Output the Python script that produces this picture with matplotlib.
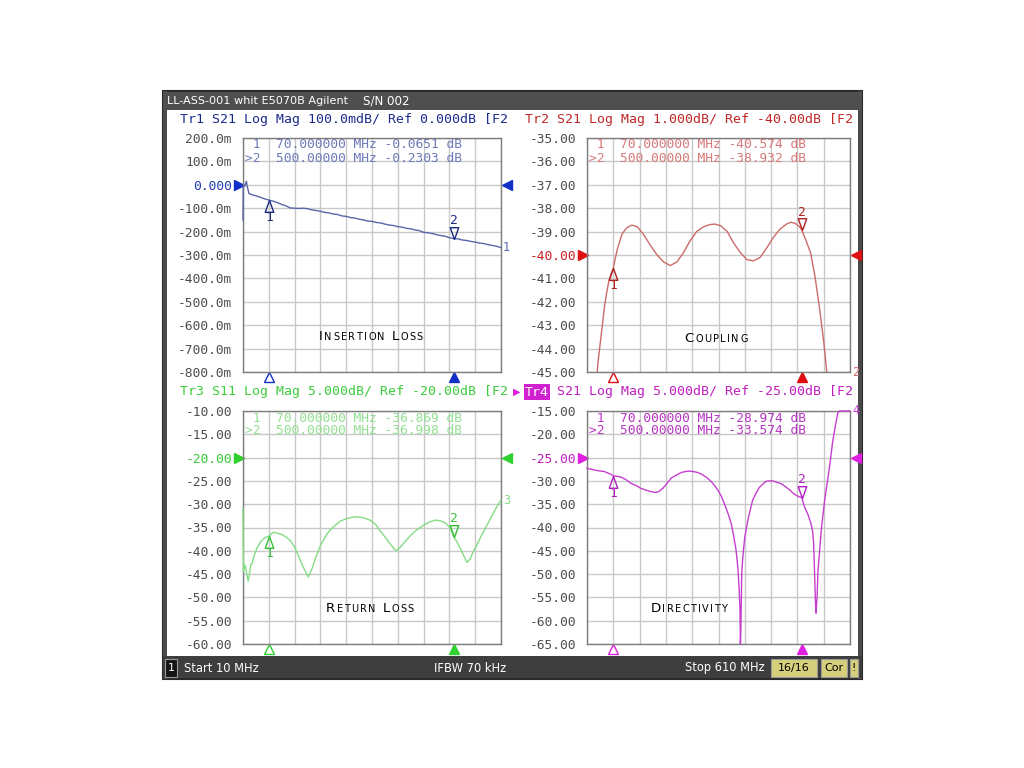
import numpy as np
import matplotlib
matplotlib.use('Agg')
import matplotlib.pyplot as plt
from matplotlib.patches import Rectangle
from matplotlib.path import Path
from matplotlib.transforms import blended_transform_factory
from matplotlib.offsetbox import TextArea, HPacker, AnnotationBbox
from matplotlib import font_manager

# ---------------- data ----------------
# Tr1 S21 insertion loss (mdB)
freq_il = [10, 10.5, 14, 18, 19, 24, 30, 40, 50, 60, 70, 80, 90, 100, 110, 120,
           130, 140, 150, 160, 170, 180, 190, 200, 210, 220, 230, 240, 250, 260,
           270, 280, 290, 300, 310, 320, 330, 340, 350, 360, 370, 380, 390, 400,
           410, 420, 430, 440, 450, 460, 470, 480, 490, 500, 510, 520, 530, 540,
           550, 560, 570, 580, 590, 600, 610]
il_mdb = [-150, -10, -5, 15, 0, -38, -42, -47, -53, -60, -65, -70, -76, -84, -90, -99,
          -100, -101, -100, -102, -107, -110, -113, -118, -120, -125, -127, -133, -135, -140,
          -142, -147, -150, -155, -156, -161, -163, -168, -172, -174, -179, -181, -186, -188,
          -193, -196, -203, -205, -208, -213, -217, -220, -226, -230, -231, -236, -238, -242,
          -245, -249, -251, -256, -259, -263, -268]

# Tr2 S21 coupling (dB)
freq_cp = [10, 20, 30, 35, 40, 45, 50, 55, 60, 65, 70, 75, 80, 90, 100, 112, 125, 140,
           155, 170, 185, 200, 215, 230, 245, 260, 275, 290, 302, 315, 330, 345, 360,
           375, 390, 405, 420, 435, 450, 465, 475, 485, 495, 500, 510, 520, 530, 540,
           550, 557, 565, 580, 600, 610]
cp_db = [-52, -49, -45.7, -44.6, -43.8, -43.0, -42.2, -41.6, -41.1, -40.8, -40.57, -40.1,
         -39.7, -39.1, -38.85, -38.72, -38.8, -39.15, -39.6, -40.0, -40.3, -40.45, -40.3,
         -39.9, -39.4, -39.0, -38.8, -38.7, -38.68, -38.75, -39.0, -39.5, -39.9, -40.2,
         -40.25, -40.1, -39.7, -39.25, -38.9, -38.68, -38.6, -38.65, -38.8, -38.93, -39.4,
         -39.9, -40.9, -42.2, -43.7, -45.0, -47, -51, -56, -58]

# Tr3 S11 return loss (dB)
freq_rl = [10, 11, 14, 17, 20, 22, 25, 28, 32, 36, 42, 50, 58, 65, 70, 80, 90, 100, 110,
           120, 130, 140, 150, 162, 172, 180, 189, 200, 210, 220, 235, 250, 265, 275, 290,
           305, 318, 328, 340, 351, 360, 366, 375, 390, 400, 413, 428, 444, 459, 470, 482,
           492, 500, 507, 515, 523, 531, 538, 545, 552, 563, 575, 587, 598, 610]
rl_db = [-31, -44.5, -43, -44, -45.5, -46.5, -45, -43, -42.5, -41, -39.5, -38.2, -37.4,
         -37.0, -36.87, -36.0, -36.2, -36.5, -37.0, -37.8, -39.2, -41.3, -43.5, -45.6,
         -43.5, -41.2, -39.1, -37.2, -35.8, -34.9, -33.7, -33.1, -32.8, -32.7, -32.9,
         -33.4, -34.3, -35.6, -37.0, -38.4, -39.4, -40.0, -39.3, -37.7, -36.7, -35.6,
         -34.6, -33.8, -33.4, -33.6, -34.1, -35.2, -37.0, -38.0, -39.4, -41.0, -42.5,
         -41.8, -40.3, -39.1, -37.0, -34.9, -32.8, -30.9, -29.1]

# Tr4 S21 directivity (dB)
freq_dir = [10, 20, 34, 50, 60, 67, 70, 78, 88, 100, 110, 122, 133, 145, 156, 167, 175,
            183, 192, 202, 213, 225, 234, 244, 253, 263, 274, 285, 296, 308, 316, 323,
            331, 339, 345, 350, 353, 355, 357, 359, 360, 361, 363, 365, 367, 370, 377,
            383, 388, 396, 403, 411, 418, 426, 434, 443, 453, 462, 472, 481, 491, 500,
            506, 514, 521, 525, 527, 529, 531, 532.5, 534, 535, 537, 540, 542, 545, 548,
            553, 559, 565, 570, 576, 582, 586, 595, 610]
dir_db = [-27.3, -27.5, -27.8, -28.0, -28.4, -28.7, -28.97, -29.0, -29.2, -29.8, -30.5,
          -31.0, -31.6, -32.0, -32.3, -32.5, -32.2, -31.6, -30.6, -29.4, -28.8, -28.2,
          -28.0, -27.9, -28.0, -28.2, -28.7, -29.4, -30.4, -31.9, -33.2, -34.8, -36.8,
          -39.1, -42.0, -44.8, -47.5, -49.8, -53.0, -57.6, -66.0, -62.0, -49.8, -47.0,
          -44.8, -42.0, -38.4, -36.0, -34.1, -32.6, -31.4, -30.7, -30.1, -30.0, -30.0,
          -30.3, -30.6, -31.2, -31.9, -32.7, -33.3, -33.57, -35.5, -37.2, -39.1, -41.0,
          -43.4, -49.1, -55.5, -58.4, -56.0, -54.8, -49.1, -46.0, -43.4, -40.0, -37.6,
          -33.5, -29.8, -25.8, -21.9, -18.5, -15.5, -13.5, -10.0, -6.0]

marker_freqs = [70, 500]
il_markers = [-65.1, -230.3]
cp_markers = [-40.574, -38.932]
rl_markers = [-36.869, -36.998]
dir_markers = [-28.974, -33.574]

il_ticks = [200, 100, 0, -100, -200, -300, -400, -500, -600, -700, -800]
il_labels = ['200.0m', '100.0m', '0.000', '-100.0m', '-200.0m', '-300.0m', '-400.0m',
             '-500.0m', '-600.0m', '-700.0m', '-800.0m']
cp_ticks = [-35, -36, -37, -38, -39, -40, -41, -42, -43, -44, -45]
cp_labels = ['-35.00', '-36.00', '-37.00', '-38.00', '-39.00', '-40.00', '-41.00',
             '-42.00', '-43.00', '-44.00', '-45.00']
rl_ticks = [-10, -15, -20, -25, -30, -35, -40, -45, -50, -55, -60]
rl_labels = ['-10.00', '-15.00', '-20.00', '-25.00', '-30.00', '-35.00', '-40.00',
             '-45.00', '-50.00', '-55.00', '-60.00']
dir_ticks = [-15, -20, -25, -30, -35, -40, -45, -50, -55, -60, -65]
dir_labels = ['-15.00', '-20.00', '-25.00', '-30.00', '-35.00', '-40.00', '-45.00',
              '-50.00', '-55.00', '-60.00', '-65.00']

# ---------------- figure ----------------
W, H = 1024, 768
fig = plt.figure(figsize=(W / 100, H / 100), dpi=100)
fig.patch.set_facecolor('white')
MONO = 'DejaVu Sans Mono'
FS = 9.3
HFS = 9.5

_names = {f.name for f in font_manager.fontManager.ttflist}
TITLE_FONT = 'Liberation Sans Narrow' if 'Liberation Sans Narrow' in _names else 'DejaVu Sans'
T_BIG, T_SMALL = (11.0, 8.4) if TITLE_FONT != 'DejaVu Sans' else (9.6, 7.0)


def fx(x):
    return x / W


def fy(y):
    return 1 - y / H


def frect(x0, y0, x1, y1, **kw):
    fig.add_artist(Rectangle((fx(x0), fy(y1)), (x1 - x0) / W, (y1 - y0) / H,
                             transform=fig.transFigure, **kw))


# screen frame
frect(163, 91, 862, 679, facecolor='white', edgecolor='#2a2a2a', lw=1.5, zorder=0)
frect(163, 91, 167, 679, facecolor='#4a4a4a', edgecolor='none', zorder=0)
frect(858, 91, 862, 679, facecolor='#4a4a4a', edgecolor='none', zorder=0)
frect(163, 92, 862, 110, facecolor='#4f4f4f', edgecolor='none', zorder=0)
frect(163, 656, 862, 678, facecolor='#3e3e3e', edgecolor='none', zorder=0)
fig.text(fx(167), fy(101.5), 'LL-ASS-001 whit E5070B Agilent', color='white',
         family='DejaVu Sans', size=8.1, ha='left', va='center')
fig.text(fx(363), fy(101.5), 'S/N 002', color='white', family='DejaVu Sans', size=8.6,
         ha='left', va='center')

# status bar
frect(165, 659, 177, 677, facecolor='#151515', edgecolor='#9a9a9a', lw=0.8, zorder=1)
fig.text(fx(171), fy(668), '1', color='white', family='DejaVu Sans', size=8,
         ha='center', va='center')
fig.text(fx(184), fy(668), 'Start 10 MHz', color='white', family='DejaVu Sans', size=8.3,
         ha='left', va='center')
fig.text(fx(470), fy(668), 'IFBW 70 kHz', color='white', family='DejaVu Sans', size=8.3,
         ha='center', va='center')
fig.text(fx(765), fy(668), 'Stop 610 MHz', color='white', family='DejaVu Sans', size=8.3,
         ha='right', va='center')
for (a, b, t) in [(771, 817, '16/16'), (821, 847, 'Cor'), (850, 858, '!')]:
    frect(a, 659, b, 677, facecolor='#d6cf7c', edgecolor='#9a9a9a', lw=0.8, zorder=1)
    fig.text(fx((a + b) / 2), fy(668), t, color='black', family='DejaVu Sans', size=8,
             ha='center', va='center')

UP = Path([(0, 0), (-0.36, -1), (0.36, -1), (0, 0)],
          [Path.MOVETO, Path.LINETO, Path.LINETO, Path.CLOSEPOLY])
DOWN = Path([(0, 0), (-0.36, 1), (0.36, 1), (0, 0)],
            [Path.MOVETO, Path.LINETO, Path.LINETO, Path.CLOSEPOLY])


def smallcaps(xpx, ypx, text):
    words = []
    tp_big = dict(size=T_BIG, family=TITLE_FONT, color='black')
    tp_small = dict(size=T_SMALL, family=TITLE_FONT, color='black')
    for w in text.split():
        parts = [TextArea(w[0], textprops=tp_big)]
        for ch in w[1:].upper():
            parts.append(TextArea(ch, textprops=tp_small))
        words.append(HPacker(children=parts, align='baseline', pad=0, sep=1.0))
    box = HPacker(children=words, align='baseline', pad=0, sep=5)
    ab = AnnotationBbox(box, (xpx, H - ypx), xycoords='figure pixels', frameon=False,
                        box_alignment=(0.5, 0.5), zorder=5)
    fig.add_artist(ab)


def panel(box, f, v, ticks, labels, ref, mvals, mlines, col, end_label, title, title_xy,
          pin_to_edges):
    x0, y0, x1, y1 = box
    wpx, hpx = x1 - x0, y1 - y0
    ax = fig.add_axes([fx(x0), fy(y1), wpx / W, hpx / H])
    ylo, yhi = ticks[-1], ticks[0]
    ax.set_xlim(10, 610)
    ax.set_ylim(ylo, yhi)
    ax.set_xticks([10 + 60 * i for i in range(11)])
    ax.set_xticklabels([])
    ax.set_yticks(ticks)
    ax.set_yticklabels(labels, family=MONO, size=FS, color='#4d4d4d')
    ax.tick_params(length=0, pad=8)
    ax.grid(True, color='#c8c8c8', lw=1.0)
    ax.set_axisbelow(True)
    for s in ax.spines.values():
        s.set_color('#7c7c7c')
        s.set_linewidth(1.0)
    ax.get_yticklabels()[ticks.index(ref)].set_color(col['ref'])

    vv = np.clip(np.asarray(v, dtype=float), ylo, yhi)
    if pin_to_edges:
        ax.plot(f, vv, color=col['trace'], lw=1.0, zorder=3, clip_on=False)
    else:
        ax.plot(f, v, color=col['trace'], lw=1.0, zorder=3)

    # markers on trace
    ax.plot([marker_freqs[0]], [mvals[0]], marker=UP, ms=17, mfc='none', mec=col['mk'],
            mew=1.0, zorder=4, ls='none')
    ax.annotate('1', (marker_freqs[0], mvals[0]), xytext=(0, -17), textcoords='offset pixels',
                ha='center', va='center', color=col['mk'], family=MONO, size=FS, zorder=4)
    ax.plot([marker_freqs[1]], [mvals[1]], marker=DOWN, ms=17, mfc='none', mec=col['mk'],
            mew=1.0, zorder=4, ls='none')
    ax.annotate('2', (marker_freqs[1], mvals[1]), xytext=(0, 18), textcoords='offset pixels',
                ha='center', va='center', color=col['mk'], family=MONO, size=FS, zorder=4)

    # end-of-trace label
    ax.annotate(end_label, (610, vv[-1]), xytext=(2, 0), textcoords='offset pixels',
                ha='left', va='center', color=col['trace'], family=MONO, size=8.5,
                annotation_clip=False)

    # reference level triangles
    tr_y = blended_transform_factory(ax.transAxes, ax.transData)
    ax.plot([-4.5 / wpx], [ref], marker='>', ms=6.5, color=col['tri'], transform=tr_y,
            clip_on=False, ls='none')
    ax.plot([1 + 6 / wpx], [ref], marker='<', ms=6.5, color=col['tri'], transform=tr_y,
            clip_on=False, ls='none')

    # marker stimulus indicators under the grid
    tr_x = blended_transform_factory(ax.transData, ax.transAxes)
    ax.plot([marker_freqs[0]], [-5 / hpx], marker='^', ms=6.5, mfc='white', mec=col['tri'],
            mew=1.0, transform=tr_x, clip_on=False, ls='none')
    ax.plot([marker_freqs[1]], [-5 / hpx], marker='^', ms=6.5, color=col['tri'],
            transform=tr_x, clip_on=False, ls='none')

    # marker readout
    fig.text(fx(x0 + 2), fy(y0 + 7), mlines[0], family=MONO, size=FS, color=col['txt'],
             ha='left', va='center')
    fig.text(fx(x0 + 2), fy(y0 + 20), mlines[1], family=MONO, size=FS, color=col['txt'],
             ha='left', va='center')

    smallcaps(title_xy[0], title_xy[1], title)
    return ax


blue = dict(trace='#5a66aa', mk='#1c2a80', txt='#6d79b8', ref='#1f3cb0', tri='#1030c8')
red = dict(trace='#cc6a6a', mk='#b02020', txt='#d87878', ref='#c82020', tri='#e01010')
green = dict(trace='#84dc84', mk='#38c038', txt='#92e092', ref='#38c838', tri='#30d030')
mag = dict(trace='#c63ed0', mk='#b020c0', txt='#b834c4', ref='#c020c0', tri='#e020e0')

panel((243, 138, 501, 372), freq_il, il_mdb, il_ticks, il_labels, 0, il_markers,
      [' 1  70.000000 MHz -0.0651 dB', '>2  500.00000 MHz -0.2303 dB'],
      blue, '1', 'Insertion Loss', (371, 337), True)
panel((587, 138, 850, 372), freq_cp, cp_db, cp_ticks, cp_labels, -40, cp_markers,
      [' 1  70.000000 MHz -40.574 dB', '>2  500.00000 MHz -38.932 dB'],
      red, '2', 'Coupling', (716, 338), False)
panel((243, 411, 501, 644), freq_rl, rl_db, rl_ticks, rl_labels, -20, rl_markers,
      [' 1  70.000000 MHz -36.869 dB', '>2  500.00000 MHz -36.998 dB'],
      green, '3', 'Return Loss', (370, 608), True)
panel((587, 411, 850, 644), freq_dir, dir_db, dir_ticks, dir_labels, -25, dir_markers,
      [' 1  70.000000 MHz -28.974 dB', '>2  500.00000 MHz -33.574 dB'],
      mag, '4', 'Directivity', (689, 609), True)

# channel headers
fig.text(fx(180), fy(120), 'Tr1 S21 Log Mag 100.0mdB/ Ref 0.000dB [F2', family=MONO,
         size=HFS, color='#1c2c8c', ha='left', va='center')
fig.text(fx(525), fy(120), 'Tr2 S21 Log Mag 1.000dB/ Ref -40.00dB [F2', family=MONO,
         size=HFS, color='#c02828', ha='left', va='center')
fig.text(fx(180), fy(392), 'Tr3 S11 Log Mag 5.000dB/ Ref -20.00dB [F2', family=MONO,
         size=HFS, color='#3ccc3c', ha='left', va='center')
fig.text(fx(517), fy(392), '\u25B6', family='DejaVu Sans', size=7, color='#e020e0',
         ha='center', va='center')
fig.text(fx(525), fy(392), 'Tr4', family=MONO, size=HFS, color='white', ha='left',
         va='center', bbox=dict(facecolor='#d020d0', edgecolor='none', boxstyle='square,pad=0.08'))
fig.text(fx(557), fy(392), 'S21 Log Mag 5.000dB/ Ref -25.00dB [F2', family=MONO,
         size=HFS, color='#c020c0', ha='left', va='center')

fig.savefig('out.png', dpi=100, facecolor='white')
